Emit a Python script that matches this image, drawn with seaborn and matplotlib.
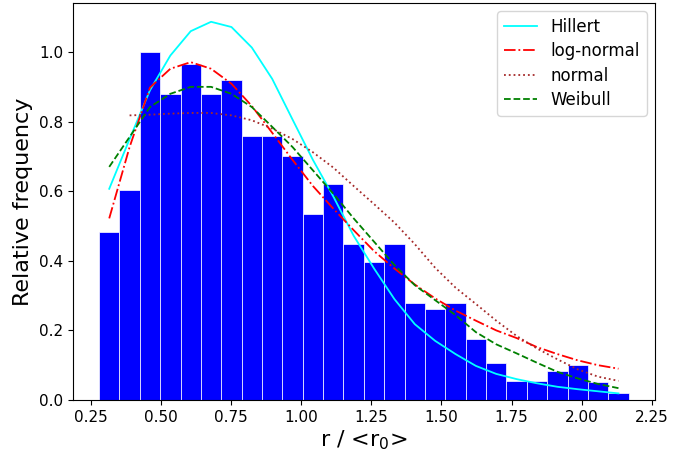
import numpy as np
import pandas as pd
import matplotlib
matplotlib.use("Agg")
import matplotlib.pyplot as plt
import seaborn as sns

# Histogram bins (r / <r0>)
bin_lo = 0.278
bin_hi = 2.168
n_bins = 26

# Relative frequency of each bin
freq = [0.483, 0.603, 1.000, 0.879, 0.965, 0.879, 0.919, 0.758, 0.758, 0.700,
        0.534, 0.620, 0.448, 0.396, 0.448, 0.2785, 0.261, 0.2785, 0.175, 0.106,
        0.0545, 0.0545, 0.083, 0.100, 0.0517, 0.020]

# Fitted distributions evaluated at bin centres
hillert = [0.607, 0.750, 0.890, 0.990, 1.060, 1.087, 1.072, 1.013, 0.923, 0.806,
           0.690, 0.585, 0.472, 0.378, 0.290, 0.218, 0.170, 0.132, 0.098, 0.075,
           0.060, 0.048, 0.038, 0.031, 0.025, 0.019]
lognormal = [0.522, 0.727, 0.898, 0.952, 0.971, 0.952, 0.909, 0.845, 0.768, 0.690,
             0.615, 0.550, 0.488, 0.428, 0.378, 0.332, 0.292, 0.257, 0.228, 0.200,
             0.178, 0.152, 0.132, 0.114, 0.100, 0.090]
normal = [np.nan, 0.818, 0.820, 0.823, 0.825, 0.825, 0.818, 0.804, 0.780, 0.750,
          0.712, 0.668, 0.615, 0.563, 0.510, 0.448, 0.380, 0.323, 0.276, 0.228,
          0.184, 0.148, 0.117, 0.088, 0.067, 0.055]
weibull = [0.670, 0.756, 0.842, 0.880, 0.900, 0.900, 0.880, 0.842, 0.785, 0.727,
           0.660, 0.593, 0.522, 0.455, 0.388, 0.330, 0.287, 0.244, 0.195, 0.160,
           0.134, 0.107, 0.081, 0.062, 0.046, 0.034]

edges = np.linspace(bin_lo, bin_hi, n_bins + 1)
centers = 0.5 * (edges[:-1] + edges[1:])

fig = plt.figure(figsize=(6.97, 4.53), dpi=100)
ax = fig.add_axes([72.7 / 697, 1 - 400 / 453, (655 - 72.7) / 697, (400 - 3) / 453])

hist_df = pd.DataFrame({"r": centers, "w": freq})
sns.histplot(data=hist_df, x="r", weights="w", bins=n_bins,
             binrange=(bin_lo, bin_hi), ax=ax,
             color="blue", alpha=1.0, edgecolor="white", linewidth=0.5)

curves = [("Hillert", hillert, "cyan", "-"),
          ("log-normal", lognormal, "red", "-."),
          ("normal", normal, "brown", ":"),
          ("Weibull", weibull, "green", "--")]
for name, vals, col, ls in curves:
    d = pd.DataFrame({"r": centers, "y": vals}).dropna()
    sns.lineplot(data=d, x="r", y="y", ax=ax, color=col, linestyle=ls,
                 linewidth=1.3, label=name)

ax.set_xlim(0.184, 2.262)
ax.set_ylim(0, 1.141)
ax.set_xticks([0.25, 0.50, 0.75, 1.00, 1.25, 1.50, 1.75, 2.00, 2.25])
ax.set_yticks([0.0, 0.2, 0.4, 0.6, 0.8, 1.0])
ax.tick_params(labelsize=11)
ax.set_xlabel("r / <r$_0$>", fontsize=16, labelpad=3)
ax.set_ylabel("Relative frequency", fontsize=16)
ax.legend(loc="upper right", fontsize=12, labelspacing=0.38)

fig.savefig("out.png", dpi=100)
